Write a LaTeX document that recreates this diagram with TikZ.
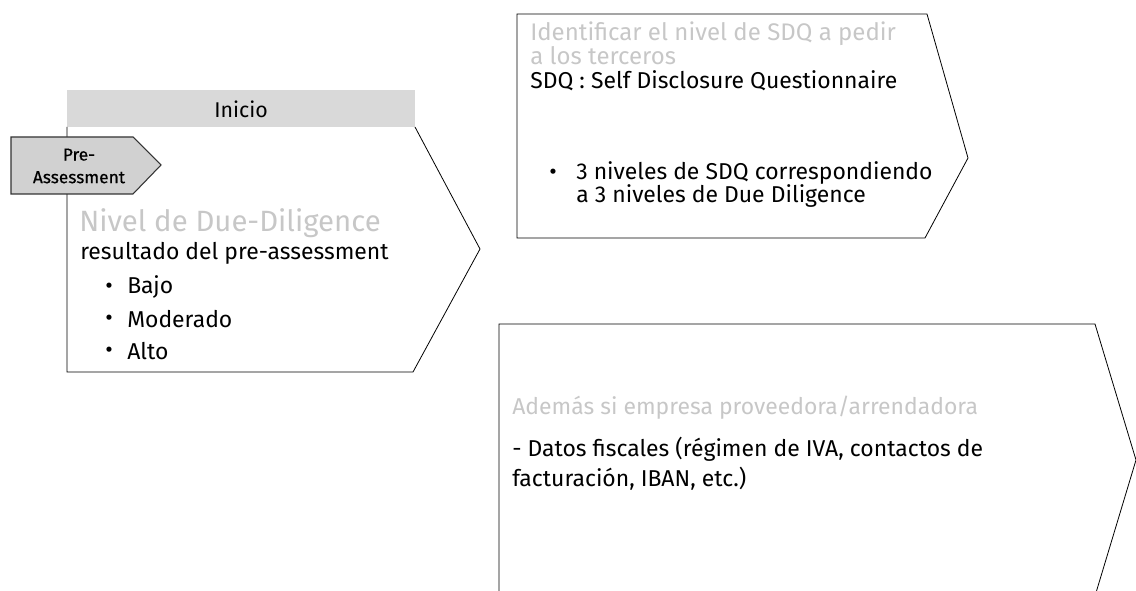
\documentclass[tikz,border=0pt]{standalone}
\usepackage{fontspec}
\setmainfont{Fira Sans}
\newfontfamily\tagfont[FakeBold=0.6]{Fira Sans}
\usepackage{tikz}
\usetikzlibrary{positioning}

\begin{document}
\begin{tikzpicture}[x=0.75pt, y=-0.75pt,
    txt/.style={anchor=west, inner sep=0pt, font=\fontsize{17.2}{20}\selectfont},
    lighttxt/.style={txt, text=black!22},
    stepline/.style={draw=black, line width=0.6pt}]
    \useasboundingbox (0,0) rectangle (1136,591);
    \clip (0,0) rectangle (1136,591);

    % Inicio step
    \fill[black!15] (67,90) rectangle (415,127);
    \node[font=\fontsize{16}{18}\selectfont] (inicio) at (241,109) {Inicio};
    \draw[stepline] (67,127) -- (67,372) -- (413,372) -- (480,249) -- (415,127);

    % Pre-Assessment tag
    \draw[fill=black!18, draw=black!80, line width=0.8pt] (11,137) -- (133,137) -- (161,165) -- (133,194) -- (11,194) -- cycle;
    \node[align=center, font=\tagfont\fontsize{13}{17}\selectfont] (pre) at (79,166) {Pre-\\Assessment};

    % Nivel de Due-Diligence
    \node[lighttxt, font=\fontsize{22}{24}\selectfont] (nivel) at (79,223) {Nivel de Due-Diligence};
    \node[txt] (res) at (80,253) {resultado del pre-assessment};
    \foreach \t/\y/\n in {Bajo/287/b1, Moderado/319/b2, Alto/351/b3} {
        \node[txt] at (105,\y+1) {•};
        \node[txt] (\n) at (127,\y) {\t};
    }

    % SDQ step
    \draw[stepline] (517,238) -- (517,14) -- (927,14) -- (968,158) -- (925,238) -- cycle;
    \node[lighttxt, font=\fontsize{18}{20}\selectfont] (ident) at (530,34) {Identificar el nivel de SDQ a pedir};
    \node[lighttxt, font=\fontsize{18}{20}\selectfont] (terc) at (530,56) {a los terceros};
    \node[txt] (sdq) at (530,81) {SDQ : Self Disclosure Questionnaire};
    \node[txt] at (549,174) {•};
    \node[txt] (niv1) at (576,173) {3 niveles de SDQ correspondiendo};
    \node[txt] (niv2) at (576,196) {a 3 niveles de Due Diligence};

    % Datos fiscales step
    \draw[stepline] (499,600) -- (499,324) -- (1095,324) -- (1136,460) -- (1095,596);
    \node[lighttxt] (ademas) at (512,408) {Además si empresa proveedora/arrendadora};
    \node[txt] (datos1) at (512,449) {- Datos fiscales (régimen de IVA, contactos de};
    \node[txt] (datos2) at (512,479) {facturación, IBAN, etc.)};
\end{tikzpicture}
\end{document}
